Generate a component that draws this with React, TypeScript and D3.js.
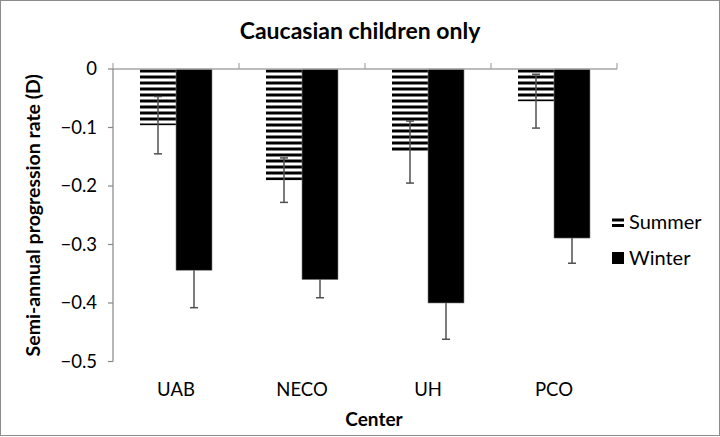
import React from "react";
import * as d3 from "d3";

const categories = ["UAB", "NECO", "UH", "PCO"];
const seriesNames = ["Summer", "Winter"];
const summerValues = [-0.096, -0.19, -0.142, -0.055];
const summerErrors = [0.049, 0.038, 0.053, 0.046];
const winterValues = [-0.344, -0.36, -0.4, -0.289];
const winterErrors = [0.064, 0.031, 0.062, 0.043];
const yTicks = [0, -0.1, -0.2, -0.3, -0.4, -0.5];

const W = 720;
const H = 437;
const FONT = "Lato, 'Open Sans', sans-serif";

export default function App() {
  const left = 113;
  const right = 617;
  const top = 69;
  const bottom = 361.5;

  const y = d3.scaleLinear().domain([0, -0.5]).range([top, bottom]);
  const x0 = d3.scaleBand<string>().domain(categories).range([left, right]).paddingInner(0).paddingOuter(0);
  const x1 = d3.scaleBand<string>().domain(seriesNames).range([0, x0.bandwidth()]).paddingInner(0).paddingOuter(0.75);

  const rows = categories.map((c, i) => ({
    c,
    bars: [
      { s: "Summer", v: summerValues[i], e: summerErrors[i] },
      { s: "Winter", v: winterValues[i], e: winterErrors[i] },
    ],
  }));

  const bw = x1.bandwidth();
  const errColor = "#505050";
  const axisColor = "#a6a6a6";

  const bar = (b: { s: string; v: number }) => (
    <rect
      key={b.s}
      x={x1(b.s)}
      y={y(0)}
      width={bw}
      height={y(b.v) - y(0)}
      fill={b.s === "Summer" ? "url(#hatch)" : "#000"}
      stroke={b.s === "Summer" ? "none" : "#7f7f7f"}
      strokeWidth={b.s === "Summer" ? 0 : 0.6}
    />
  );

  return (
    <svg width={W} height={H} style={{ position: "fixed", left: 0, top: 0, background: "#fff" }}>
      <defs>
        <pattern id="hatch" patternUnits="userSpaceOnUse" x={0} y={top + 0.5} width={8} height={6}>
          <rect x={0} y={0} width={8} height={6} fill="#fff" />
          <rect x={0} y={0} width={8} height={3} fill="#000" />
        </pattern>
      </defs>
      <rect x={0.5} y={0.5} width={W - 1} height={H - 2} fill="#fff" stroke="#8c8c8c" strokeWidth={1} />

      <text x={360} y={39} textAnchor="middle" fontFamily={FONT} fontWeight="bold" fontSize={23} fill="#000">
        Caucasian children only
      </text>

      {/* bars */}
      {rows.map((r) => (
        <g key={r.c} transform={`translate(${x0(r.c)},0)`}>
          {r.bars.filter((b) => b.s === "Summer").map(bar)}
          {r.bars.map((b) => {
            const cx = (x1(b.s) as number) + bw / 2;
            const y1 = y(b.v + b.e);
            const y2 = y(b.v - b.e);
            return (
              <g key={b.s + "e"} stroke={errColor} strokeWidth={1.5}>
                <line x1={cx} x2={cx} y1={y1} y2={y2} />
                <line x1={cx - 4} x2={cx + 4} y1={y1} y2={y1} />
                <line x1={cx - 4} x2={cx + 4} y1={y2} y2={y2} />
              </g>
            );
          })}
          {r.bars.filter((b) => b.s === "Winter").map(bar)}
        </g>
      ))}

      {/* x axis at zero */}
      <line x1={left} x2={right} y1={y(0)} y2={y(0)} stroke={axisColor} strokeWidth={1.5} />
      {[...categories.map((c) => x0(c) as number), right].map((t, i) => (
        <line key={i} x1={t} x2={t} y1={y(0)} y2={y(0) - 6} stroke={axisColor} strokeWidth={1.2} />
      ))}

      {/* y axis */}
      <line x1={left} x2={left} y1={y(0)} y2={y(-0.5)} stroke="#868686" strokeWidth={1.2} />
      {yTicks.map((t) => (
        <g key={t}>
          <line x1={left - 5} x2={left} y1={y(t)} y2={y(t)} stroke="#868686" strokeWidth={1.2} />
          <text x={97} y={y(t)} dy="0.35em" textAnchor="end" fontFamily={FONT} fontSize={18.5} fill="#000">
            {t === 0 ? "0" : d3.format(".1f")(t)}
          </text>
        </g>
      ))}

      {/* category labels */}
      {categories.map((c) => (
        <text
          key={c}
          x={(x0(c) as number) + x0.bandwidth() / 2}
          y={396}
          textAnchor="middle"
          fontFamily={FONT}
          fontSize={18.5}
          fill="#000"
        >
          {c}
        </text>
      ))}

      <text x={374} y={426} textAnchor="middle" fontFamily={FONT} fontWeight="bold" fontSize={19} fill="#000">
        Center
      </text>

      <text
        transform={`translate(40,${(top + bottom) / 2}) rotate(-90)`}
        textAnchor="middle"
        fontFamily={FONT}
        fontWeight="bold"
        fontSize={19.5}
        fill="#000"
      >
        Semi-annual progression rate (D)
      </text>

      {/* legend */}
      <g>
        <rect x={612} y={218.5} width={12} height={3} fill="#000" />
        <rect x={612} y={224} width={12} height={3} fill="#000" />
        <text x={629} y={229} fontFamily={FONT} fontSize={20} fill="#000">
          {seriesNames[0]}
        </text>
        <rect x={612} y={252} width={12} height={12} fill="#000" />
        <text x={629} y={265} fontFamily={FONT} fontSize={20} fill="#000">
          {seriesNames[1]}
        </text>
      </g>
    </svg>
  );
}
